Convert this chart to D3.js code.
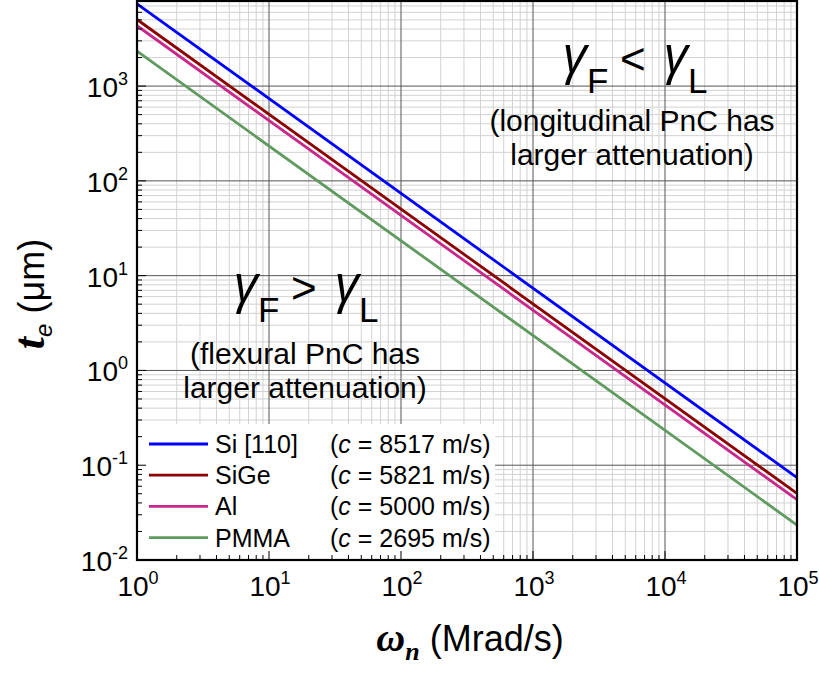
<!DOCTYPE html>
<html><head><meta charset="utf-8">
<script src="https://cdn.jsdelivr.net/npm/d3@7"></script>
<style>body{margin:0;background:#fff}svg{display:block}</style>
</head><body>
<svg id="c" width="819" height="675"></svg>
<script>
// ---- data ----
const omegaVals = [1, 1e5];                  // ω_n (Mrad/s) at the line ends
const materials = ["Si [110]", "SiGe", "Al", "PMMA"];
const speeds = ["8517", "5821", "5000", "2695"];
const teSi   = [7380, 0.0738];
const teSiGe = [5040, 0.0504];
const teAl   = [4330, 0.0433];
const tePMMA = [2335, 0.02335];
const xTickVals = [1, 10, 100, 1000, 10000, 100000];
const xTickExp = ["0", "1", "2", "3", "4", "5"];
const yTickVals = [0.01, 0.1, 1, 10, 100, 1000];
const yTickExp = ["-2", "-1", "0", "1", "2", "3"];
const colors = ["#0000ff", "#8b0000", "#c8288c", "#5f9a5f"];

const seriesData = [teSi, teSiGe, teAl, tePMMA];

const svg = d3.select("#c");
const X0 = 137, X1 = 797, Y0 = 1, Y1 = 560;
const x = d3.scaleLog().domain([1, 1e5]).range([X0, X1]);
const y = d3.scaleLog().domain([0.01, 7900]).range([Y1, Y0]);

const minorX = [], minorY = [];
for (let e = 0; e < 5; e++) for (let m = 2; m <= 9; m++) minorX.push(m * Math.pow(10, e));
for (let e = -2; e < 4; e++) for (let m = 2; m <= 9; m++) { const v = m * Math.pow(10, e); if (v <= 7900) minorY.push(v); }

const g = svg.append("g");
g.selectAll(".mx").data(minorX).join("line")
  .attr("x1", d => x(d)).attr("x2", d => x(d)).attr("y1", Y0).attr("y2", Y1)
  .attr("stroke", "#d2d2d2").attr("stroke-width", 1);
g.selectAll(".my").data(minorY).join("line")
  .attr("y1", d => y(d)).attr("y2", d => y(d)).attr("x1", X0).attr("x2", X1)
  .attr("stroke", "#d2d2d2").attr("stroke-width", 1);
g.selectAll(".Mx").data(xTickVals).join("line")
  .attr("x1", d => x(d)).attr("x2", d => x(d)).attr("y1", Y0).attr("y2", Y1)
  .attr("stroke", "#555").attr("stroke-width", 1);
g.selectAll(".My").data(yTickVals).join("line")
  .attr("y1", d => y(d)).attr("y2", d => y(d)).attr("x1", X0).attr("x2", X1)
  .attr("stroke", "#555").attr("stroke-width", 1);

// data lines
const line = d3.line().x((d, i) => x(omegaVals[i])).y(d => y(d));
svg.append("g").selectAll("path").data(seriesData).join("path")
  .attr("d", d => line(d)).attr("fill", "none")
  .attr("stroke", (d, i) => colors[i]).attr("stroke-width", 2.8);

// legend
const font = "Liberation Sans, Arial, sans-serif";
const leg = svg.append("g");
leg.append("rect").attr("x", 139).attr("y", 424).attr("width", 356).attr("height", 135).attr("fill", "#fff");
const rowY = i => 444 + i * 31.2;
materials.forEach((m, i) => {
  leg.append("line").attr("x1", 149).attr("x2", 208).attr("y1", rowY(i)).attr("y2", rowY(i))
    .attr("stroke", colors[i]).attr("stroke-width", 2.8);
  leg.append("text").attr("x", 215).attr("y", rowY(i) + 9)
    .attr("font-family", font).attr("font-size", 25).text(m);
  const t = leg.append("text").attr("x", 330).attr("y", rowY(i) + 9)
    .attr("font-family", font).attr("font-size", 25);
  t.append("tspan").text("(");
  t.append("tspan").attr("font-style", "italic").text("c");
  t.append("tspan").text(" = " + speeds[i] + " m/s)");
});

// ticks inside
const tk = svg.append("g").attr("stroke", "#000").attr("stroke-width", 1);
tk.selectAll(".a").data(minorY).join("line").attr("x1", X0).attr("x2", X0 + 5).attr("y1", d => y(d)).attr("y2", d => y(d));
tk.selectAll(".b").data(yTickVals).join("line").attr("x1", X0).attr("x2", X0 + 9).attr("y1", d => y(d)).attr("y2", d => y(d));
tk.selectAll(".c").data(minorX).join("line").attr("y1", Y1).attr("y2", Y1 - 5).attr("x1", d => x(d)).attr("x2", d => x(d));
tk.selectAll(".d").data(xTickVals).join("line").attr("y1", Y1).attr("y2", Y1 - 9).attr("x1", d => x(d)).attr("x2", d => x(d));

// frame
svg.append("rect").attr("x", X0).attr("y", Y0).attr("width", X1 - X0).attr("height", Y1 - Y0)
  .attr("fill", "none").attr("stroke", "#000").attr("stroke-width", 2.2);

// tick labels
yTickVals.forEach((v, i) => {
  const t = svg.append("text").attr("x", 128).attr("y", y(v) + 11).attr("text-anchor", "end")
    .attr("font-family", font).attr("font-size", 28);
  t.append("tspan").text("10");
  t.append("tspan").attr("font-size", 18).attr("dy", -12).text(yTickExp[i]);
});
xTickVals.forEach((v, i) => {
  const t = svg.append("text").attr("x", x(v) + 1).attr("y", 596).attr("text-anchor", "middle")
    .attr("font-family", font).attr("font-size", 28);
  t.append("tspan").text("10");
  t.append("tspan").attr("font-size", 18).attr("dy", -12).text(xTickExp[i]);
});

// axis titles
const serif = "Liberation Serif, Times New Roman, serif";
const xt = svg.append("text").attr("x", 470).attr("y", 651).attr("text-anchor", "middle").attr("font-family", font).attr("font-size", 36);
xt.append("tspan").attr("font-family", serif).attr("font-weight", "bold").attr("font-style", "italic").attr("font-size", 40).text("ω");
xt.append("tspan").attr("font-family", serif).attr("font-weight", "bold").attr("font-style", "italic").attr("font-size", 26).attr("dy", 9).text("n");
xt.append("tspan").attr("dy", -9).text(" (Mrad/s)");

const yt = svg.append("text").attr("transform", "translate(44,294) rotate(-90)").attr("text-anchor", "middle").attr("font-family", font).attr("font-size", 36);
yt.append("tspan").attr("font-family", serif).attr("font-weight", "bold").attr("font-style", "italic").attr("font-size", 44).text("t");
yt.append("tspan").attr("font-style", "italic").attr("font-size", 24).attr("dy", 8).text("e");
yt.append("tspan").attr("dy", -8).text(" (μm)");

// annotations
function gammaRel(x0, base, sym) {
  const a = svg.append("g").attr("font-family", font);
  a.append("text").attr("x", x0).attr("y", base).attr("font-family", "Open Sans, DejaVu Sans, sans-serif").attr("font-style", "italic").attr("font-size", 52).text("γ");
  a.append("text").attr("x", x0 + 24).attr("y", base + 20).attr("font-size", 35).text("F");
  a.append("text").attr("x", x0 + 57).attr("y", base + 1).attr("font-size", 44).text(sym);
  a.append("text").attr("x", x0 + 101).attr("y", base).attr("font-family", "Open Sans, DejaVu Sans, sans-serif").attr("font-style", "italic").attr("font-size", 52).text("γ");
  a.append("text").attr("x", x0 + 125).attr("y", base + 20).attr("font-size", 35).text("L");
}
gammaRel(563, 73, "<");
gammaRel(234, 302, ">");

function para(cx, b1, lines) {
  lines.forEach((s, i) => svg.append("text").attr("x", cx).attr("y", b1 + i * 34).attr("text-anchor", "middle")
    .attr("font-family", font).attr("font-size", 30).text(s));
}
para(632, 131, ["(longitudinal PnC has", "larger attenuation)"]);
para(305, 364, ["(flexural PnC has", "larger attenuation)"]);
</script>
</body></html>
